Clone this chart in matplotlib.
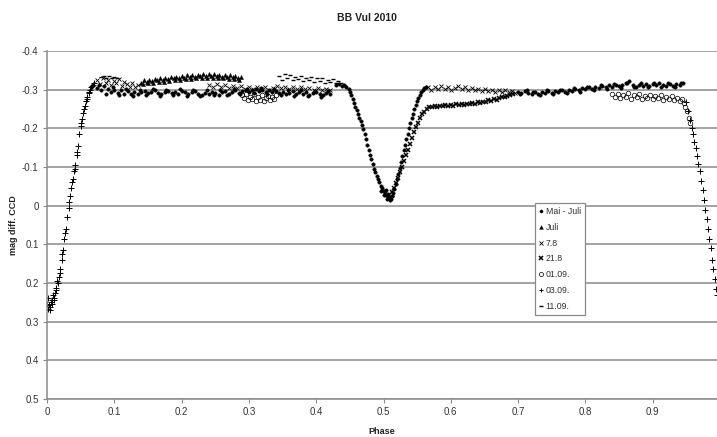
import matplotlib
matplotlib.use("Agg")
import matplotlib.pyplot as plt

plt.rcParams['font.family'] = ['Liberation Sans', 'DejaVu Sans']

# ---------------- data (phase, mag diff) ----------------
mai_juli = [
    # maximum I, lower band
    (0.075, -0.305), (0.080, -0.298), (0.085, -0.310), (0.090, -0.302), (0.095, -0.295),
    (0.100, -0.300), (0.105, -0.292), (0.110, -0.298), (0.115, -0.290), (0.120, -0.296),
    (0.125, -0.289), (0.130, -0.294), (0.135, -0.288), (0.140, -0.293), (0.145, -0.296),
    (0.150, -0.291), (0.155, -0.295), (0.160, -0.298), (0.165, -0.292), (0.170, -0.288),
    (0.175, -0.294), (0.180, -0.297), (0.185, -0.291), (0.190, -0.295), (0.195, -0.290),
    (0.200, -0.296), (0.205, -0.293), (0.210, -0.288), (0.215, -0.294), (0.220, -0.297),
    (0.225, -0.290), (0.230, -0.286), (0.235, -0.292), (0.240, -0.289), (0.245, -0.295),
    (0.250, -0.291), (0.255, -0.287), (0.260, -0.293), (0.265, -0.296), (0.270, -0.290),
    (0.275, -0.294), (0.280, -0.298), (0.285, -0.292), (0.290, -0.296), (0.295, -0.300),
    (0.300, -0.294), (0.305, -0.298), (0.310, -0.302), (0.315, -0.296), (0.320, -0.300),
    (0.325, -0.295), (0.330, -0.299), (0.335, -0.293), (0.340, -0.297), (0.345, -0.291),
    (0.350, -0.295), (0.355, -0.288), (0.360, -0.292), (0.365, -0.296), (0.370, -0.290),
    (0.375, -0.294), (0.380, -0.289), (0.385, -0.293), (0.390, -0.287), (0.395, -0.291),
    (0.400, -0.295), (0.405, -0.289), (0.410, -0.286), (0.415, -0.292), (0.420, -0.288),
    (0.0775, -0.312), (0.0875, -0.290), (0.0975, -0.306), (0.1075, -0.286), (0.1175, -0.302),
    (0.1275, -0.284), (0.1375, -0.300), (0.1475, -0.285), (0.1575, -0.301), (0.1675, -0.283),
    (0.1775, -0.300), (0.1875, -0.286), (0.1975, -0.302), (0.2075, -0.284), (0.2175, -0.299),
    (0.2275, -0.283), (0.2375, -0.298), (0.2475, -0.285), (0.2575, -0.300), (0.2675, -0.286),
    (0.2775, -0.301), (0.2875, -0.288), (0.2975, -0.303), (0.3075, -0.291), (0.3175, -0.305),
    (0.3275, -0.289), (0.3375, -0.303), (0.3475, -0.286), (0.3575, -0.299), (0.3675, -0.284),
    (0.3775, -0.298), (0.3875, -0.283), (0.3975, -0.297), (0.4075, -0.282), (0.4175, -0.296),
    # secondary minimum
    (0.430, -0.312), (0.434, -0.315), (0.438, -0.310), (0.442, -0.312), (0.445, -0.308),
    (0.448, -0.302), (0.450, -0.295), (0.452, -0.285), (0.454, -0.275), (0.456, -0.265),
    (0.458, -0.256), (0.460, -0.247), (0.462, -0.238), (0.464, -0.228), (0.466, -0.218),
    (0.468, -0.208), (0.470, -0.197), (0.472, -0.185), (0.474, -0.172), (0.476, -0.158),
    (0.478, -0.145), (0.480, -0.132), (0.482, -0.120), (0.484, -0.108), (0.486, -0.096),
    (0.488, -0.086), (0.490, -0.077), (0.492, -0.068), (0.494, -0.060), (0.496, -0.052),
    (0.498, -0.045), (0.500, -0.038), (0.502, -0.032), (0.504, -0.027), (0.506, -0.022),
    (0.508, -0.020), (0.510, -0.022), (0.512, -0.026), (0.514, -0.032),
    (0.497, -0.038), (0.501, -0.028), (0.505, -0.017), (0.509, -0.015), (0.511, -0.018),
    (0.513, -0.025), (0.507, -0.030), (0.503, -0.040),
    (0.516, -0.042), (0.518, -0.055), (0.520, -0.068), (0.522, -0.082), (0.524, -0.097),
    (0.526, -0.112), (0.528, -0.128), (0.530, -0.143), (0.532, -0.158), (0.534, -0.172),
    (0.536, -0.186), (0.538, -0.200), (0.540, -0.213), (0.542, -0.226), (0.544, -0.238),
    (0.546, -0.250), (0.548, -0.260), (0.550, -0.270), (0.552, -0.279), (0.554, -0.287),
    (0.556, -0.294), (0.558, -0.300), (0.560, -0.304), (0.563, -0.307),
    # maximum II, upper band
    (0.700, -0.295), (0.705, -0.291), (0.710, -0.296), (0.715, -0.292), (0.720, -0.288),
    (0.725, -0.294), (0.730, -0.290), (0.735, -0.295), (0.740, -0.291), (0.745, -0.296),
    (0.750, -0.292), (0.755, -0.297), (0.760, -0.293), (0.765, -0.298), (0.770, -0.295),
    (0.775, -0.300), (0.780, -0.297), (0.785, -0.302), (0.790, -0.299), (0.795, -0.304),
    (0.800, -0.301), (0.805, -0.306), (0.810, -0.303), (0.815, -0.308), (0.820, -0.305),
    (0.825, -0.310), (0.830, -0.307), (0.835, -0.311), (0.840, -0.308), (0.845, -0.312),
    (0.850, -0.309), (0.855, -0.313), (0.860, -0.316), (0.865, -0.322), (0.870, -0.312),
    (0.875, -0.308), (0.880, -0.313), (0.885, -0.309), (0.890, -0.314), (0.895, -0.310),
    (0.900, -0.315), (0.905, -0.311), (0.910, -0.316), (0.915, -0.312), (0.920, -0.309),
    (0.925, -0.314), (0.930, -0.310), (0.935, -0.315), (0.940, -0.312), (0.945, -0.316),
    (0.7025, -0.289), (0.7125, -0.299), (0.7225, -0.293), (0.7325, -0.286), (0.7425, -0.298),
    (0.7525, -0.289), (0.7625, -0.300), (0.7725, -0.291), (0.7825, -0.304), (0.7925, -0.295),
    (0.8025, -0.308), (0.8125, -0.298), (0.8225, -0.311), (0.8325, -0.302), (0.8425, -0.315),
    (0.8525, -0.305), (0.8625, -0.318), (0.8725, -0.306), (0.8825, -0.317), (0.8925, -0.307),
    (0.9025, -0.318), (0.9125, -0.308), (0.9225, -0.317), (0.9325, -0.307), (0.9425, -0.318),
]

juli = [
    (0.140, -0.318), (0.144, -0.324), (0.148, -0.320), (0.152, -0.326), (0.156, -0.322),
    (0.160, -0.328), (0.164, -0.324), (0.168, -0.330), (0.172, -0.326), (0.176, -0.331),
    (0.180, -0.327), (0.184, -0.333), (0.188, -0.329), (0.192, -0.334), (0.196, -0.330),
    (0.200, -0.336), (0.204, -0.331), (0.208, -0.337), (0.212, -0.333), (0.216, -0.338),
    (0.220, -0.334), (0.224, -0.339), (0.228, -0.335), (0.232, -0.340), (0.236, -0.336),
    (0.240, -0.341), (0.244, -0.336), (0.248, -0.340), (0.252, -0.335), (0.256, -0.339),
    (0.260, -0.334), (0.264, -0.338), (0.268, -0.333), (0.272, -0.337), (0.276, -0.332),
    (0.280, -0.336), (0.284, -0.331), (0.288, -0.334),
    (0.142, -0.314), (0.150, -0.316), (0.158, -0.318), (0.166, -0.320), (0.174, -0.321),
    (0.182, -0.323), (0.190, -0.324), (0.198, -0.326), (0.206, -0.327), (0.214, -0.328),
    (0.222, -0.329), (0.230, -0.330), (0.238, -0.331), (0.246, -0.331), (0.254, -0.330),
    (0.262, -0.329), (0.270, -0.328), (0.278, -0.327), (0.286, -0.326),
]

d_07_08 = [
    (0.075, -0.325), (0.079, -0.315), (0.083, -0.330), (0.087, -0.318), (0.091, -0.326),
    (0.095, -0.312), (0.099, -0.322), (0.103, -0.316), (0.107, -0.328), (0.111, -0.310),
    (0.115, -0.320), (0.119, -0.314), (0.123, -0.308), (0.127, -0.318), (0.131, -0.306),
    (0.135, -0.312),
    (0.240, -0.312), (0.246, -0.308), (0.252, -0.314), (0.258, -0.306), (0.264, -0.311),
    (0.270, -0.305), (0.276, -0.310), (0.282, -0.304), (0.288, -0.309), (0.294, -0.303),
    (0.300, -0.308), (0.306, -0.302), (0.312, -0.307), (0.318, -0.301), (0.324, -0.306),
    (0.330, -0.300), (0.336, -0.305), (0.342, -0.309), (0.348, -0.304), (0.354, -0.308),
    (0.360, -0.303), (0.366, -0.307), (0.372, -0.302), (0.378, -0.306), (0.384, -0.301),
    (0.390, -0.305), (0.396, -0.300), (0.402, -0.304), (0.408, -0.299), (0.414, -0.303),
    (0.420, -0.298),
    (0.566, -0.306), (0.571, -0.300), (0.576, -0.308), (0.581, -0.302), (0.586, -0.310),
    (0.591, -0.303), (0.596, -0.307), (0.601, -0.299), (0.606, -0.305), (0.611, -0.309),
    (0.616, -0.301), (0.621, -0.306), (0.626, -0.300), (0.631, -0.304), (0.636, -0.298),
    (0.641, -0.303), (0.646, -0.297), (0.651, -0.302), (0.656, -0.296), (0.661, -0.300),
    (0.666, -0.295), (0.671, -0.299), (0.676, -0.294), (0.681, -0.298), (0.686, -0.293),
    (0.691, -0.297), (0.696, -0.292),
]

d_21_08 = [
    (0.512, -0.035), (0.515, -0.045), (0.518, -0.058), (0.521, -0.072), (0.524, -0.086),
    (0.527, -0.100), (0.530, -0.115), (0.533, -0.130), (0.536, -0.145), (0.539, -0.160),
    (0.542, -0.175), (0.545, -0.190), (0.548, -0.203), (0.551, -0.215), (0.554, -0.226),
    (0.557, -0.236), (0.560, -0.243), (0.564, -0.250), (0.568, -0.254),
    (0.572, -0.256), (0.576, -0.258), (0.580, -0.255), (0.584, -0.259), (0.588, -0.257),
    (0.592, -0.260), (0.596, -0.258), (0.600, -0.261), (0.604, -0.259), (0.608, -0.262),
    (0.612, -0.260), (0.616, -0.263), (0.620, -0.261), (0.624, -0.264), (0.628, -0.262),
    (0.632, -0.265), (0.636, -0.263), (0.640, -0.267), (0.644, -0.265), (0.648, -0.269),
    (0.652, -0.268), (0.656, -0.272), (0.660, -0.271), (0.664, -0.275), (0.668, -0.274),
    (0.672, -0.278), (0.676, -0.280), (0.680, -0.282), (0.684, -0.284), (0.688, -0.286),
    (0.692, -0.288),
]

d_01_09 = [
    (0.290, -0.285), (0.293, -0.278), (0.296, -0.290), (0.299, -0.272), (0.302, -0.282),
    (0.305, -0.275), (0.308, -0.288), (0.311, -0.270), (0.314, -0.280), (0.317, -0.274),
    (0.320, -0.286), (0.323, -0.271), (0.326, -0.279), (0.329, -0.284), (0.332, -0.273),
    (0.335, -0.281), (0.338, -0.276), (0.341, -0.287),
    (0.840, -0.290), (0.844, -0.282), (0.848, -0.288), (0.852, -0.279), (0.856, -0.286),
    (0.860, -0.280), (0.864, -0.291), (0.868, -0.277), (0.872, -0.285), (0.876, -0.281),
    (0.880, -0.288), (0.884, -0.276), (0.888, -0.284), (0.892, -0.279), (0.896, -0.287),
    (0.900, -0.275), (0.904, -0.283), (0.908, -0.278), (0.912, -0.286), (0.916, -0.274),
    (0.920, -0.281), (0.924, -0.277), (0.928, -0.284), (0.932, -0.272), (0.936, -0.279),
    (0.940, -0.270), (0.943, -0.276), (0.946, -0.266), (0.948, -0.255), (0.951, -0.245),
    (0.954, -0.228), (0.956, -0.215),
]

d_03_09 = [
    # egress of primary minimum
    (0.000, 0.255), (0.002, 0.268), (0.004, 0.262), (0.006, 0.250), (0.008, 0.245),
    (0.010, 0.238), (0.012, 0.225), (0.014, 0.212), (0.016, 0.200), (0.018, 0.185),
    (0.020, 0.165), (0.022, 0.140), (0.024, 0.115), (0.026, 0.085), (0.028, 0.060),
    (0.030, 0.030), (0.032, 0.005), (0.034, -0.025), (0.036, -0.045), (0.038, -0.070),
    (0.040, -0.090), (0.042, -0.105), (0.044, -0.130), (0.046, -0.155), (0.048, -0.185),
    (0.050, -0.205), (0.052, -0.225), (0.054, -0.240), (0.056, -0.258), (0.058, -0.270),
    (0.060, -0.282), (0.062, -0.292), (0.064, -0.300), (0.066, -0.306), (0.068, -0.312),
    (0.070, -0.316),
    (0.001, 0.240), (0.003, 0.258), (0.005, 0.270), (0.007, 0.255), (0.009, 0.232),
    (0.011, 0.245), (0.013, 0.218), (0.015, 0.195), (0.019, 0.175), (0.023, 0.125),
    (0.027, 0.070), (0.033, -0.010), (0.037, -0.060), (0.041, -0.095), (0.045, -0.140),
    (0.051, -0.215), (0.055, -0.250), (0.059, -0.275), (0.063, -0.295), (0.067, -0.310),
    # ingress of primary minimum
    (0.950, -0.268), (0.953, -0.245), (0.956, -0.222), (0.958, -0.200), (0.960, -0.185),
    (0.962, -0.165), (0.964, -0.148), (0.966, -0.128), (0.968, -0.108), (0.970, -0.090),
    (0.972, -0.065), (0.974, -0.040), (0.976, -0.015), (0.978, 0.010), (0.980, 0.035),
    (0.982, 0.060), (0.984, 0.085), (0.986, 0.110), (0.988, 0.140), (0.990, 0.165),
    (0.992, 0.190), (0.994, 0.215), (0.995, 0.232),
]

d_11_09 = [
    (0.080, -0.333), (0.084, -0.336), (0.088, -0.330), (0.092, -0.335), (0.096, -0.331),
    (0.100, -0.334), (0.104, -0.329),
    (0.345, -0.335), (0.349, -0.326), (0.353, -0.340), (0.357, -0.330), (0.361, -0.337),
    (0.365, -0.324), (0.369, -0.333), (0.373, -0.327), (0.377, -0.336), (0.381, -0.322),
    (0.385, -0.331), (0.389, -0.325), (0.393, -0.334), (0.397, -0.320), (0.401, -0.329),
    (0.405, -0.323), (0.409, -0.331), (0.413, -0.318), (0.417, -0.326), (0.421, -0.320),
    (0.425, -0.328), (0.429, -0.316), (0.433, -0.323), (0.437, -0.318), (0.441, -0.312),
]

series_labels = ["Mai - Juli", "Juli", "7.8", "21.8", "01.09.", "03.09.", "11.09."]
y_ticks = [-0.4, -0.3, -0.2, -0.1, 0.0, 0.1, 0.2, 0.3, 0.4, 0.5]
y_tick_labels = ["-0.4", "-0.3", "-0.2", "-0.1", "0", "0.1", "0.2", "0.3", "0.4", "0.5"]
x_ticks = [0, 0.1, 0.2, 0.3, 0.4, 0.5, 0.6, 0.7, 0.8, 0.9]
x_tick_labels = ["0", "0.1", "0.2", "0.3", "0.4", "0.5", "0.6", "0.7", "0.8", "0.9"]

# ---------------- figure ----------------
W, H = 717, 437
fig = plt.figure(figsize=(W / 100, H / 100), dpi=100)
ax = fig.add_axes([47 / W, 1 - 399 / H, 670 / W, 348 / H])

styles = [
    dict(marker='o', ms=2.5, mfc='black', mec='black', mew=0.3),
    dict(marker='^', ms=3.0, mfc='black', mec='black', mew=0.3),
    dict(marker='x', ms=3.2, mec='black', mew=0.6),
    dict(marker='x', ms=3.2, mec='black', mew=1.1),
    dict(marker='o', ms=3.3, mfc='none', mec='black', mew=0.5),
    dict(marker='+', ms=3.8, mec='black', mew=0.7),
    dict(marker='_', ms=3.2, mec='black', mew=1.0),
]
all_series = [mai_juli, juli, d_07_08, d_21_08, d_01_09, d_03_09, d_11_09]
for data, lab, st in zip(all_series, series_labels, styles):
    xs = [p for p, m in data]
    ys = [m for p, m in data]
    ax.plot(xs, ys, linestyle='none', label=lab, **st)

ax.set_xlim(0, 670 / 673)
ax.set_ylim(0.5, -0.4)
ax.set_yticks(y_ticks)
ax.set_yticklabels(y_tick_labels)
ax.set_xticks(x_ticks)
ax.set_xticklabels(x_tick_labels)
ax.yaxis.grid(True, color='#8a8a8a', linewidth=1.1)
ax.set_axisbelow(True)
for s in ['top', 'right']:
    ax.spines[s].set_visible(False)
for s in ['left', 'bottom']:
    ax.spines[s].set_color('#8a8a8a')
    ax.spines[s].set_linewidth(1.1)
ax.tick_params(axis='both', direction='out', length=3, width=0.8, color='#8a8a8a',
               labelsize=7, labelcolor='#333333', pad=3)

fig.text(367 / W, 1 - 18 / H, "BB Vul 2010", ha='center', va='center',
         fontsize=7.5, fontweight='bold', color='#222222')
fig.text(382 / W, 1 - 431 / H, "Phase", ha='center', va='center',
         fontsize=6.5, fontweight='bold', color='#222222')
fig.text(14 / W, 1 - 225 / H, "mag diff. CCD", ha='center', va='center', rotation=90,
         fontsize=6.5, fontweight='bold', color='#222222')

leg = ax.legend(loc='upper left', bbox_to_anchor=((535 - 47) / 670, (399 - 203) / 348),
                fontsize=6.3, frameon=True, fancybox=False, framealpha=1,
                edgecolor='#8a8a8a', handlelength=0.5, handletextpad=0.25,
                labelspacing=0.78, borderpad=0.45, borderaxespad=0, markerscale=0.9)
leg.get_frame().set_linewidth(0.9)
for t in leg.get_texts():
    t.set_color('#333333')

fig.savefig("out.png", dpi=100)
